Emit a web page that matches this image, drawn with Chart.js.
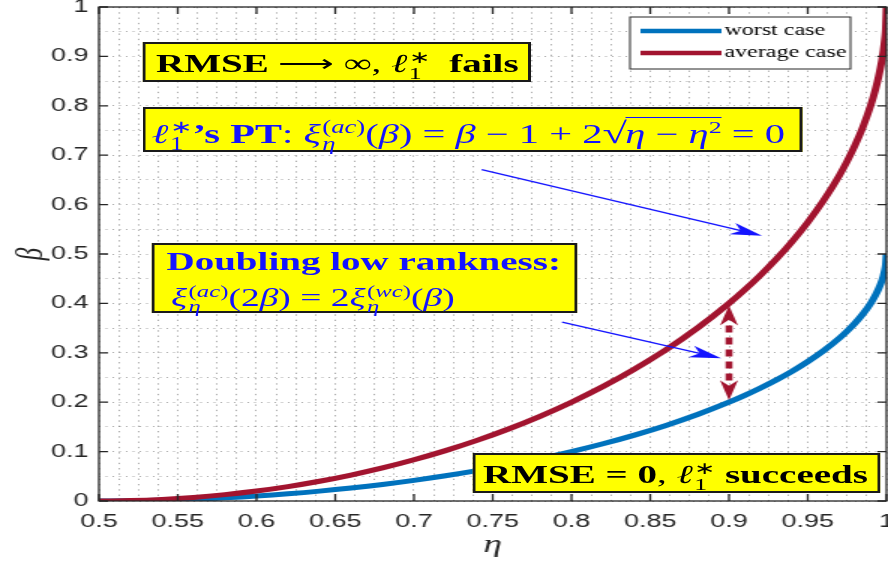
<!DOCTYPE html>
<html>
<head>
<meta charset="utf-8">
<script src="https://cdn.jsdelivr.net/npm/chart.js@4.4.1/dist/chart.umd.min.js"></script>
<style>
  html, body { margin: 0; padding: 0; background: #fff; }
  #frame { position: relative; width: 888px; height: 565px; overflow: hidden; background: #fff; }
  /* the reference figure is stretched sideways, so draw narrow and widen */
  #stage { position: absolute; left: 0; top: 0; width: 615px; height: 565px; transform: scaleX(1.5); transform-origin: 0 0; }
  #chart { position: absolute; left: 0; top: 0; }
  .note { position: absolute; box-sizing: border-box; background: #ffff00; border: 2px solid #1a1a1a;
          font-family: 'Liberation Serif', 'Times New Roman', serif; white-space: nowrap; line-height: 1; }
  .note i { font-style: italic; }
  .blue { color: #1414ff; }
  .ss { display: inline-flex; flex-direction: column; font-size: 0.66em; line-height: 0.92; vertical-align: 0.55em; margin-left: 1px; }
  .ss span { display: block; }
  .sq { font-size: 1.1em; }
  .rad { border-top: 1.5px solid currentColor; padding-top: 1px; margin-left: -1px; }
  .rad sup { font-size: 0.64em; vertical-align: 0.6em; line-height: 0; }
</style>
</head>
<body>
<div id="frame">
  <div id="stage">
    <canvas id="chart" width="615" height="565"></canvas>

    <div class="note" style="left:95px; top:42px; width:259px; height:40px; font-size:26px; padding:6px 0 0 7px;">
      <b>RMSE</b> ⟶ ∞, <i>ℓ</i><span class="ss"><span>∗</span><span>1</span></span>&nbsp; <b>fails</b>
    </div>

    <div class="note blue" style="left:95px; top:107px; width:440px; height:45px; font-size:27px; padding:10px 0 0 4px;">
      <i>ℓ</i><span class="ss"><span>∗</span><span>1</span></span><b>’s PT</b>: <i>ξ</i><span class="ss"><span>(<i>ac</i>)</span><span><i>η</i></span></span>(<i>β</i>) = <i>β</i> − 1 + 2<span class="sq">√</span><span class="rad"><i>η</i> − <i>η</i><sup>2</sup></span> = 0
    </div>

    <div class="note blue" style="left:101px; top:243px; width:284px; height:70px; font-size:26px; padding:4px 0 0 8px;">
      <b>Doubling low rankness:</b><br>
      <div style="margin-top:9px; padding-left:3px; font-size:25px;"><i>ξ</i><span class="ss"><span>(<i>ac</i>)</span><span><i>η</i></span></span>(2<i>β</i>) = 2<i>ξ</i><span class="ss"><span>(<i>wc</i>)</span><span><i>η</i></span></span>(<i>β</i>)</div>
    </div>

    <div class="note" style="left:315px; top:453px; width:272px; height:40px; font-size:26px; padding:6px 0 0 5px;">
      <b>RMSE = 0</b>, <i>ℓ</i><span class="ss"><span>∗</span><span>1</span></span> <b>succeeds</b>
    </div>
  </div>
</div>

<script>
// eta (x) and beta (y)
const eta = [0.5, 0.52, 0.54, 0.56, 0.58, 0.6, 0.62, 0.64, 0.66, 0.68, 0.7, 0.72, 0.74, 0.76, 0.78,
  0.8, 0.82, 0.84, 0.86, 0.88, 0.9, 0.91, 0.92, 0.93, 0.94, 0.95, 0.96, 0.97, 0.975, 0.98,
  0.985, 0.99, 0.993, 0.995, 0.997, 0.998, 0.999, 0.9995, 1];
const worstCase = [0, 0.0004, 0.0016, 0.0036, 0.0065, 0.0101, 0.0146, 0.02, 0.0263, 0.0335, 0.0418,
  0.051, 0.0614, 0.0729, 0.0858, 0.1, 0.1158, 0.1334, 0.153, 0.1751, 0.2, 0.2138, 0.2287, 0.2449,
  0.2625, 0.2821, 0.3041, 0.3294, 0.3439, 0.36, 0.3785, 0.4005, 0.4167, 0.4295, 0.4453, 0.4553,
  0.4684, 0.4777, 0.5];
const averageCase = [0, 0.0008, 0.0032, 0.0072, 0.0129, 0.0202, 0.0292, 0.04, 0.0526, 0.067, 0.0835,
  0.102, 0.1227, 0.1458, 0.1715, 0.2, 0.2316, 0.2668, 0.306, 0.3501, 0.4, 0.4276, 0.4574, 0.4897,
  0.525, 0.5641, 0.6081, 0.6588, 0.6877, 0.72, 0.7569, 0.801, 0.8333, 0.8589, 0.8906, 0.9106,
  0.9368, 0.9553, 1];
const seriesNames = ['worst case', 'average case'];
const seriesColors = ['#0072BD', '#A2142F'];

const xTickLabels = ['0.5', '0.55', '0.6', '0.65', '0.7', '0.75', '0.8', '0.85', '0.9', '0.95', '1'];
const yTickLabels = ['0', '0.1', '0.2', '0.3', '0.4', '0.5', '0.6', '0.7', '0.8', '0.9', '1'];

// annotation arrows, in data units
const pointerArrows = [
  { from: [0.743, 0.671], to: [0.921, 0.537] },
  { from: [0.794, 0.362], to: [0.895, 0.289] }
];
const gapEta = 0.9;

const axisColor = '#262626';
const tickFont = { family: "'Liberation Sans', Arial, sans-serif", size: 18 };

function labelFor(labels, start, step) {
  return (v) => {
    const k = Math.round((v - start) / step);
    return Math.abs(v - (start + k * step)) < 1e-6 && labels[k] !== undefined ? labels[k] : '';
  };
}

function arrowHead(ctx, x, y, ang, len, half, color) {
  ctx.save();
  ctx.translate(x, y);
  ctx.rotate(ang);
  ctx.beginPath();
  ctx.moveTo(0, 0);
  ctx.lineTo(-len, -half);
  ctx.lineTo(-len * 0.72, 0);
  ctx.lineTo(-len, half);
  ctx.closePath();
  ctx.fillStyle = color;
  ctx.fill();
  ctx.restore();
}

const annotationPlugin = {
  id: 'annotations',
  afterDatasetsDraw(chart) {
    const { ctx, scales: { x, y } } = chart;
    ctx.save();

    // blue pointer arrows
    pointerArrows.forEach(a => {
      const x0 = x.getPixelForValue(a.from[0]), y0 = y.getPixelForValue(a.from[1]);
      const x1 = x.getPixelForValue(a.to[0]), y1 = y.getPixelForValue(a.to[1]);
      const ang = Math.atan2(y1 - y0, x1 - x0);
      ctx.strokeStyle = '#1414ff';
      ctx.lineWidth = 1.3;
      ctx.beginPath();
      ctx.moveTo(x0, y0);
      ctx.lineTo(x1 - 12 * Math.cos(ang), y1 - 12 * Math.sin(ang));
      ctx.stroke();
      arrowHead(ctx, x1, y1, ang, 21, 6, '#1414ff');
    });

    // dotted double arrow between the curves
    const i = eta.indexOf(gapEta);
    const px = x.getPixelForValue(gapEta);
    const top = y.getPixelForValue(averageCase[i]) + 2;
    const bot = y.getPixelForValue(worstCase[i]) - 2;
    ctx.strokeStyle = seriesColors[1];
    ctx.lineWidth = 4.6;
    ctx.setLineDash([7, 5]);
    ctx.beginPath();
    ctx.moveTo(px, top + 20);
    ctx.lineTo(px, bot - 18);
    ctx.stroke();
    ctx.setLineDash([]);
    arrowHead(ctx, px, top, -Math.PI / 2, 20, 6, seriesColors[1]);
    arrowHead(ctx, px, bot, Math.PI / 2, 20, 6, seriesColors[1]);

    // axes box with inward ticks
    const a = chart.chartArea;
    ctx.strokeStyle = axisColor;
    ctx.lineWidth = 1.3;
    ctx.strokeRect(a.left, a.top, a.right - a.left, a.bottom - a.top);
    ctx.beginPath();
    x.ticks.forEach(t => {
      if (t.label === '') return;
      const p = x.getPixelForValue(t.value);
      ctx.moveTo(p, a.bottom); ctx.lineTo(p, a.bottom - 7);
      ctx.moveTo(p, a.top); ctx.lineTo(p, a.top + 7);
    });
    y.ticks.forEach(t => {
      if (t.label === '') return;
      const p = y.getPixelForValue(t.value);
      ctx.moveTo(a.left, p); ctx.lineTo(a.left + 6, p);
      ctx.moveTo(a.right, p); ctx.lineTo(a.right - 6, p);
    });
    ctx.stroke();
    ctx.restore();
  },
  afterDraw(chart) {
    // legend box, top right inside the axes
    const { ctx, chartArea: a } = chart;
    const bx = a.right - 171, by = a.top + 10, bw = 147, bh = 52;
    ctx.save();
    ctx.fillStyle = '#fff';
    ctx.fillRect(bx, by, bw, bh);
    ctx.strokeStyle = axisColor;
    ctx.lineWidth = 1;
    ctx.strokeRect(bx, by, bw, bh);
    ctx.font = "16px 'Liberation Serif', serif";
    ctx.textBaseline = 'middle';
    chart.data.datasets.forEach((ds, k) => {
      const ly = by + 14 + k * 22;
      ctx.strokeStyle = ds.borderColor;
      ctx.lineWidth = 4.5;
      ctx.beginPath();
      ctx.moveTo(bx + 7, ly);
      ctx.lineTo(bx + 61, ly);
      ctx.stroke();
      ctx.fillStyle = '#000';
      ctx.fillText(ds.label, bx + 63, ly);
    });
    ctx.restore();
  }
};

new Chart(document.getElementById('chart'), {
  type: 'line',
  data: {
    datasets: [
      {
        label: seriesNames[0],
        data: eta.map((v, i) => ({ x: v, y: worstCase[i] })),
        borderColor: seriesColors[0],
        borderWidth: 5,
        pointRadius: 0,
        cubicInterpolationMode: 'monotone',
        order: 2
      },
      {
        label: seriesNames[1],
        data: eta.map((v, i) => ({ x: v, y: averageCase[i] })),
        borderColor: seriesColors[1],
        borderWidth: 5,
        pointRadius: 0,
        cubicInterpolationMode: 'monotone',
        order: 1
      }
    ]
  },
  options: {
    responsive: false,
    animation: false,
    layout: { padding: { top: 7, right: 24, bottom: 0, left: 0 } },
    plugins: { legend: { display: false }, tooltip: { enabled: false } },
    scales: {
      x: {
        type: 'linear',
        min: 0.5,
        max: 1,
        grid: { color: 'rgba(90,90,90,0.5)', lineWidth: 1, drawTicks: false },
        border: { display: false, dash: [1.3, 4] },
        ticks: {
          stepSize: 0.0125,
          autoSkip: false,
          maxRotation: 0,
          padding: 10,
          color: axisColor,
          font: tickFont,
          callback: labelFor(xTickLabels, 0.5, 0.05)
        },
        title: {
          display: true,
          text: 'η',
          color: axisColor,
          font: { family: "'Liberation Serif', serif", size: 25, style: 'italic' },
          padding: { top: 0, bottom: 5 }
        },
        afterFit(scale) { scale.height = 64; scale.paddingLeft = 0; scale.paddingRight = 0; }
      },
      y: {
        type: 'linear',
        min: 0,
        max: 1,
        grid: { color: 'rgba(90,90,90,0.5)', lineWidth: 1, drawTicks: false },
        border: { display: false, dash: [1, 3.5] },
        ticks: {
          stepSize: 0.05,
          autoSkip: false,
          padding: 7,
          color: axisColor,
          font: tickFont,
          callback: labelFor(yTickLabels, 0, 0.1)
        },
        title: {
          display: true,
          text: 'β',
          color: axisColor,
          font: { family: "'Liberation Serif', serif", size: 25, style: 'italic' },
          padding: { top: 6, bottom: 0 }
        },
        afterFit(scale) { scale.width = 66; scale.paddingTop = 0; scale.paddingBottom = 0; }
      }
    }
  },
  plugins: [annotationPlugin]
});
</script>
</body>
</html>
